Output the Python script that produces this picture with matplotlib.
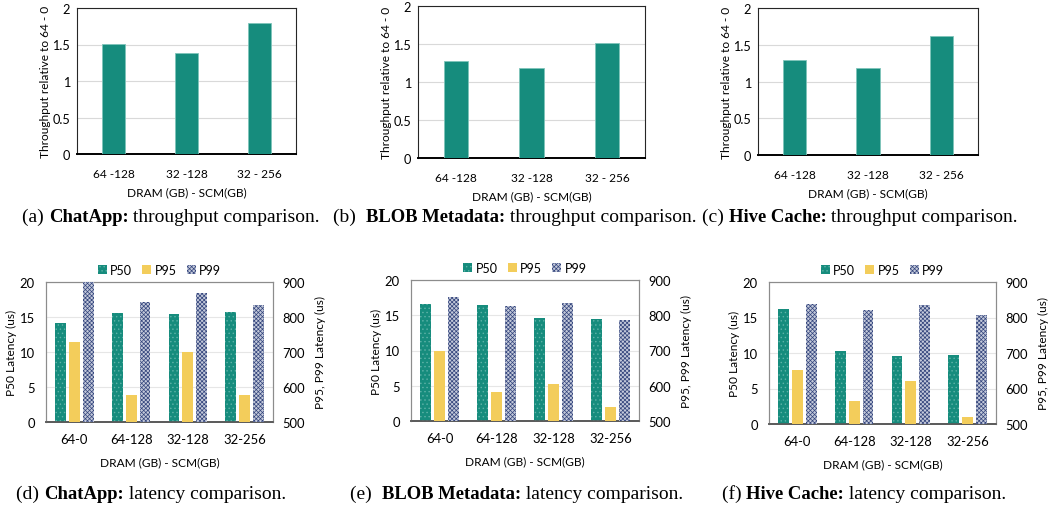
import numpy as np
import matplotlib
matplotlib.use("Agg")
import matplotlib.pyplot as plt

plt.rcParams['font.family'] = ['Lato', 'DejaVu Sans']
plt.rcParams['hatch.linewidth'] = 0.5

# data
thr_cats = ["64 -128", "32 -128", "32 - 256"]
thr_chatapp = [1.51, 1.38, 1.79]
thr_blob = [1.27, 1.18, 1.51]
thr_hive = [1.29, 1.19, 1.62]

lat_cats = ["64-0", "64-128", "32-128", "32-256"]
chat_p50 = [14.2, 15.6, 15.4, 15.7]
chat_p95 = [728, 576, 701, 578]
chat_p99 = [900, 842, 869, 835]
blob_p50 = [16.6, 16.5, 14.6, 14.5]
blob_p95 = [698, 583, 605, 539]
blob_p99 = [853, 826, 834, 786]
hive_p50 = [16.2, 10.35, 9.6, 9.74]
hive_p95 = [651, 564, 620, 520]
hive_p99 = [839, 822, 836, 806]

TEAL = "#168c7d"
YELLOW = "#f3cd5b"
W, H = 1052, 510
FS = 8.6

fig = plt.figure(figsize=(W / 100, H / 100), dpi=100)


def box(l, r, t, b):
    return [l / W, 1 - b / H, (r - l) / W, (b - t) / H]


def throughput(rect, vals):
    ax = fig.add_axes(box(*rect))
    x = np.arange(len(thr_cats))
    ax.bar(x, vals, width=0.32, color=TEAL, edgecolor="#7fc4ba", linewidth=0.6, zorder=3)
    ax.set_xlim(-0.5, 2.5)
    ax.set_ylim(0, 2)
    ax.set_yticks([0, 0.5, 1, 1.5, 2])
    ax.set_yticklabels(["0", "0.5", "1", "1.5", "2"])
    ax.set_xticks(x)
    ax.set_xticklabels(thr_cats)
    ax.grid(axis="y", color="#d9d9d9", linewidth=0.8, zorder=0)
    ax.tick_params(axis="x", length=0, labelsize=FS, pad=10)
    ax.tick_params(axis="y", length=0, labelsize=FS + 0.6, pad=5)
    for s in ax.spines.values():
        s.set_color("#262626")
        s.set_linewidth(0.8)
    ax.spines["bottom"].set_linewidth(1.4)
    ax.spines["bottom"].set_color("black")
    ax.set_ylabel("Throughput relative to 64 - 0", fontsize=FS, labelpad=1)
    ax.set_xlabel("DRAM (GB) - SCM(GB)", fontsize=FS, labelpad=5)
    return ax


def latency(rect, p50, p95, p99):
    ax = fig.add_axes(box(*rect))
    ax2 = ax.twinx()
    x = np.arange(len(lat_cats))
    bw, off = 0.19, 0.245
    h1 = ax.bar(x - off, p50, width=bw, color=TEAL, hatch="....",
                edgecolor="#5fb3a8", linewidth=0, zorder=3, label="P50")
    h2 = ax2.bar(x, p95, width=bw, color=YELLOW, linewidth=0, zorder=3, label="P95")
    h3 = ax2.bar(x + off, p99, width=bw, color="#c3c9da", hatch="xxxxxxxx",
                 edgecolor="#33447c", linewidth=0, zorder=3, label="P99")
    ax.set_xlim(-0.5, 3.5)
    ax.set_ylim(0, 20)
    ax2.set_ylim(500, 900)
    ax.set_yticks([0, 5, 10, 15, 20])
    ax2.set_yticks([500, 600, 700, 800, 900])
    ax.set_xticks(x)
    ax.set_xticklabels(lat_cats)
    ax.grid(axis="y", color="#e6e6e6", linewidth=0.8, zorder=0)
    ax.tick_params(length=0, labelsize=FS + 0.8, pad=8)
    ax2.tick_params(length=0, labelsize=FS + 0.8, pad=7)
    for a in (ax, ax2):
        for s in a.spines.values():
            s.set_color("#8c8c8c")
            s.set_linewidth(0.8)
        a.spines["bottom"].set_color("#595959")
        a.spines["bottom"].set_linewidth(1.2)
    ax.set_ylabel("P50 Latency (us)", fontsize=FS, labelpad=2)
    ax2.set_ylabel("P95, P99 Latency (us)", fontsize=FS, labelpad=7)
    ax.set_xlabel("DRAM (GB) - SCM(GB)", fontsize=FS, labelpad=8)
    ax.legend([h1, h2, h3], ["P50", "P95", "P99"], loc="lower center",
              bbox_to_anchor=(0.5, 1.0), ncol=3, frameon=False, fontsize=FS + 0.4,
              handlelength=0.7, handleheight=0.7, handletextpad=0.3,
              columnspacing=0.8, borderaxespad=0.1)
    return ax


def caption(x, y, tag, name, rest):
    kw = dict(family="Liberation Serif", ha="left", va="baseline")
    t1 = fig.text(x / W, 1 - y / H, tag, fontsize=14, **kw)
    t2 = fig.text(0, 0, name, fontsize=13.4, weight="bold", **kw)
    t3 = fig.text(0, 0, rest, fontsize=14, **kw)
    return t1, t2, t3


throughput((77, 296, 9, 155), thr_chatapp)
throughput((418, 645, 7, 159), thr_blob)
throughput((758, 978, 9, 156), thr_hive)

latency((46, 273, 283, 423), chat_p50, chat_p95, chat_p99)
latency((411, 639, 281, 422), blob_p50, blob_p95, blob_p99)
latency((769, 996, 283, 425), hive_p50, hive_p95, hive_p99)

caps = [
    (22, 222, "(a) ", "ChatApp:", " throughput comparison."),
    (333, 222, "(b)  ", "BLOB Metadata:", " throughput comparison."),
    (702, 222, "(c) ", "Hive Cache:", " throughput comparison."),
    (16, 499, "(d) ", "ChatApp:", " latency comparison."),
    (350, 499, "(e)  ", "BLOB Metadata:", " latency comparison."),
    (722, 499, "(f) ", "Hive Cache:", " latency comparison."),
]
groups = [caption(*c) for c in caps]

# chain caption pieces left to right
fig.canvas.draw()
r = fig.canvas.get_renderer()
for t1, t2, t3 in groups:
    bb = t1.get_window_extent(r)
    x0, y0 = t1.get_position()
    t2.set_position((bb.x1 / fig.bbox.width, y0))
    bb2 = t2.get_window_extent(r)
    t3.set_position((bb2.x1 / fig.bbox.width, y0))

fig.savefig("out.png", dpi=100)
